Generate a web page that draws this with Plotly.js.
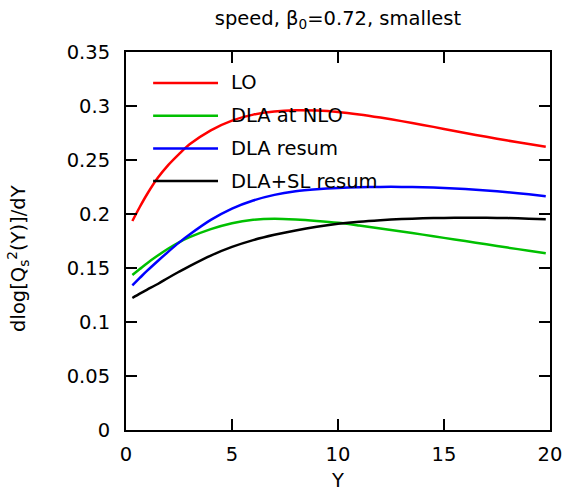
<!DOCTYPE html>
<html>
<head>
<meta charset="utf-8">
<script src="https://cdn.plot.ly/plotly-3.0.1.min.js"></script>
<style>html,body{margin:0;padding:0;background:#fff;}#chart{width:568px;height:492px;}</style>
</head>
<body>
<div id="chart"></div>
<script>
const Yvals = [0.3, 0.65, 1, 1.5, 2, 2.5, 3, 4, 5, 6, 7, 8, 9, 10, 11, 12, 13, 14, 15, 16, 17, 18, 19, 19.8];
const LO = [0.1935, 0.2065, 0.2185, 0.2335, 0.2455, 0.2555, 0.2645, 0.2775, 0.2865, 0.292, 0.295, 0.2961, 0.2958, 0.2945, 0.2922, 0.2893, 0.286, 0.2825, 0.2788, 0.275, 0.2715, 0.268, 0.2648, 0.2622];
const DLA_NLO = [0.1435, 0.149, 0.1545, 0.1615, 0.168, 0.1738, 0.1785, 0.186, 0.1915, 0.1946, 0.1955, 0.1948, 0.1935, 0.1918, 0.1893, 0.1866, 0.1838, 0.1809, 0.1779, 0.1749, 0.1719, 0.1689, 0.166, 0.1636];
const DLA_RES = [0.134, 0.1408, 0.1475, 0.1565, 0.1652, 0.1735, 0.181, 0.1945, 0.205, 0.2125, 0.2177, 0.221, 0.2229, 0.2241, 0.2248, 0.2251, 0.2251, 0.2248, 0.2241, 0.2231, 0.2218, 0.2201, 0.2182, 0.2165];
const DLASL_RES = [0.1222, 0.1262, 0.130, 0.1352, 0.141, 0.1465, 0.1518, 0.1615, 0.1695, 0.1758, 0.1807, 0.1848, 0.1882, 0.1909, 0.1929, 0.1943, 0.1953, 0.196, 0.1964, 0.1966, 0.1965, 0.1962, 0.1957, 0.1952];
const names = ["LO", "DLA at NLO", "DLA resum", "DLA+SL resum"];
const colors = ["#ff0000", "#00c000", "#0000ff", "#000000"];
const series = [LO, DLA_NLO, DLA_RES, DLASL_RES];
const xTicks = [0, 5, 10, 15, 20];
const yTicks = [0, 0.05, 0.1, 0.15, 0.2, 0.25, 0.3, 0.35];
const yTickText = ["0", "0.05", "0.1", "0.15", "0.2", "0.25", "0.3", "0.35"];

const FONT = "DejaVu Sans, Liberation Sans, Arial, sans-serif";
const FS = 19.5;
const traces = series.map((s, i) => ({
  x: Yvals, y: s, type: "scatter", mode: "lines", name: names[i],
  line: {color: colors[i], width: 2.5, shape: "spline", smoothing: 0.8},
  showlegend: false
}));

// legend drawn gnuplot-style (no box), in paper coordinates
const shapes = [], annotations = [];
const legTop = 0.918, legStep = 0.0865;
names.forEach((n, i) => {
  const yy = legTop - i * legStep;
  shapes.push({type: "line", xref: "paper", yref: "paper", x0: 0.064, x1: 0.217, y0: yy, y1: yy,
    line: {color: colors[i], width: 2.5}});
  annotations.push({xref: "paper", yref: "paper", x: 0.243, y: yy, xanchor: "left", yanchor: "middle",
    text: n, showarrow: false, font: {family: FONT, size: FS, color: "#000"}});
});
// y-axis title (placed like the gnuplot original)
annotations.push({xref: "paper", yref: "paper", x: -0.255, y: 0.455, xanchor: "center", yanchor: "middle",
  textangle: -90, showarrow: false, text: "dlog[Q<sub>s</sub><sup>2</sup>(Y)]/dY",
  font: {family: FONT, size: FS, color: "#000"}});

const axisCommon = {
  showgrid: false, zeroline: false, showline: true, linecolor: "#000", linewidth: 2,
  mirror: "allticks", ticks: "inside", ticklen: 11, tickwidth: 1.3, tickcolor: "#000",
  tickfont: {family: FONT, size: FS, color: "#000"}
};

const layout = {
  width: 568, height: 492,
  margin: {l: 126, r: 18, t: 52, b: 62},
  paper_bgcolor: "#fff", plot_bgcolor: "#fff",
  title: {text: "speed, β<sub>0</sub>=0.72, smallest", font: {family: FONT, size: FS, color: "#000"},
    x: 0.595, xanchor: "center", y: 0.963, yanchor: "middle"},
  xaxis: Object.assign({}, axisCommon, {range: [0, 20], tickvals: xTicks, ticklabelstandoff: 6,
    title: {text: "Y", font: {family: FONT, size: FS, color: "#000"}, standoff: 10}}),
  yaxis: Object.assign({}, axisCommon, {range: [0, 0.35], tickvals: yTicks, ticktext: yTickText, ticklabelstandoff: 10}),
  shapes: shapes, annotations: annotations, showlegend: false
};

Plotly.newPlot("chart", traces, layout, {staticPlot: true, displayModeBar: false});
</script>
</body>
</html>
